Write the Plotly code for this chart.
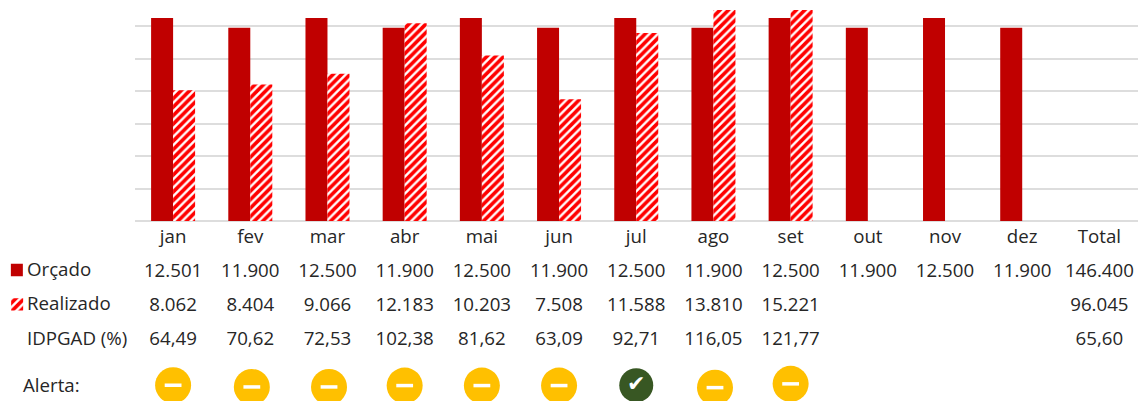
import plotly.graph_objects as go

months = ["jan", "fev", "mar", "abr", "mai", "jun", "jul", "ago", "set", "out", "nov", "dez"]
tick_labels = months + ["Total"]
orcado = [12501, 11900, 12500, 11900, 12500, 11900, 12500, 11900, 12500, 11900, 12500, 11900]
realizado = [8062, 8404, 9066, 12183, 10203, 7508, 11588, 13810, 15221]
row_orcado = ["12.501", "11.900", "12.500", "11.900", "12.500", "11.900", "12.500", "11.900", "12.500", "11.900", "12.500", "11.900", "146.400"]
row_realizado = ["8.062", "8.404", "9.066", "12.183", "10.203", "7.508", "11.588", "13.810", "15.221", "", "", "", "96.045"]
row_idpgad = ["64,49", "70,62", "72,53", "102,38", "81,62", "63,09", "92,71", "116,05", "121,77", "", "", "", "65,60"]
row_names = ["Orçado", "Realizado", "IDPGAD (%)"]
alert_status = ["warn", "warn", "warn", "warn", "warn", "warn", "ok", "warn", "warn"]
alert_x = [0.0, 1.02, 2.02, 3.0, 4.0, 5.0, 6.0, 7.02, 8.0]
alert_row = [3.30, 3.35, 3.35, 3.31, 3.31, 3.31, 3.30, 3.37, 3.26]

W, H = 1142, 401
TEXT = "#262626"
FONT = "Open Sans"
FS = 18.7
RED = "#C00000"
stripes = dict(shape="/", fgcolor="#FF0000", bgcolor="#FFFFFF", fgopacity=1, size=6, solidity=0.6)

x_idx = list(range(len(tick_labels)))
fig = go.Figure()
fig.add_bar(x=x_idx[:12], y=orcado, marker=dict(color=RED, line_width=0), hoverinfo="skip")
fig.add_bar(x=x_idx[:9], y=realizado, marker=dict(color="#FFFFFF", line_width=0, pattern=stripes), hoverinfo="skip")

for row, vals in enumerate([row_orcado, row_realizado, row_idpgad]):
    fig.add_scatter(x=x_idx, y=[row] * len(vals), text=vals, mode="text", yaxis="y2",
                    textfont=dict(family=FONT, size=FS, color=TEXT), cliponaxis=False, hoverinfo="skip")

warn = [i for i, s in enumerate(alert_status) if s == "warn"]
ok = [i for i, s in enumerate(alert_status) if s == "ok"]
fig.add_scatter(x=[alert_x[i] for i in warn], y=[alert_row[i] for i in warn], mode="markers", yaxis="y2",
                marker=dict(symbol="circle", size=36, color="#FFC000", line_width=0), cliponaxis=False, hoverinfo="skip")
fig.add_scatter(x=[alert_x[i] for i in warn], y=[alert_row[i] for i in warn], mode="markers", yaxis="y2",
                marker=dict(symbol="line-ew", size=12, line=dict(color="#FFFFFF", width=3.5)), cliponaxis=False, hoverinfo="skip")
fig.add_scatter(x=[alert_x[i] for i in ok], y=[alert_row[i] for i in ok], mode="markers+text", yaxis="y2",
                marker=dict(symbol="circle", size=34, color="#385723", line_width=0), text=["✔"],
                textposition="middle center", textfont=dict(family="DejaVu Sans", size=22, color="#FFFFFF"),
                cliponaxis=False, hoverinfo="skip")

# left-hand labels and swatches
fig.add_bar(x=[17], y=[0.36], base=[-0.24], width=[12], xaxis="x2", yaxis="y2",
            marker=dict(color=RED, line_width=0), hoverinfo="skip")
fig.add_bar(x=[17], y=[0.36], base=[0.76], width=[12], xaxis="x2", yaxis="y2",
            marker=dict(color="#FFFFFF", line_width=0, pattern=stripes), hoverinfo="skip")
fig.add_scatter(x=[27, 27, 27], y=[-0.03, 0.97, 2], text=row_names, mode="text", textposition="middle right",
                xaxis="x2", yaxis="y2", textfont=dict(family=FONT, size=FS, color=TEXT), cliponaxis=False, hoverinfo="skip")
fig.add_scatter(x=[23], y=[3.36], text=["Alerta:"], mode="text", textposition="middle right",
                xaxis="x2", yaxis="y2", textfont=dict(family=FONT, size=FS, color=TEXT), cliponaxis=False, hoverinfo="skip")

fig.update_layout(
    width=W, height=H, margin=dict(l=0, r=0, t=0, b=0), showlegend=False,
    paper_bgcolor="white", plot_bgcolor="white",
    barmode="group", bargap=0.43, bargroupgap=0,
    font=dict(family=FONT, size=FS, color=TEXT),
    xaxis=dict(domain=[134.5 / W, 1138 / W], range=[-0.5, 12.5], tickmode="array", tickvals=x_idx, ticktext=tick_labels,
               showgrid=False, zeroline=False, showline=False, ticks="", anchor="y", ticklabelstandoff=2,
               tickfont=dict(family=FONT, size=FS, color=TEXT)),
    yaxis=dict(domain=[(H - 221) / H, (H - 10) / H], range=[0, 13000], tick0=0, dtick=2000, showticklabels=False,
               showgrid=True, gridcolor="#DDDDDD", gridwidth=2, zeroline=True, zerolinecolor="#DDDDDD", zerolinewidth=2,
               anchor="x"),
    xaxis2=dict(domain=[0, 134.5 / W], range=[0, 134.5], visible=False, anchor="y2"),
    yaxis2=dict(domain=[0, (H - 221) / H], range=[3.76, -1.49], visible=False, anchor="x"),
)
fig.write_html("out.html", config={"displayModeBar": False},
               post_script="document.body.style.margin='0';document.documentElement.style.overflow='hidden';")
